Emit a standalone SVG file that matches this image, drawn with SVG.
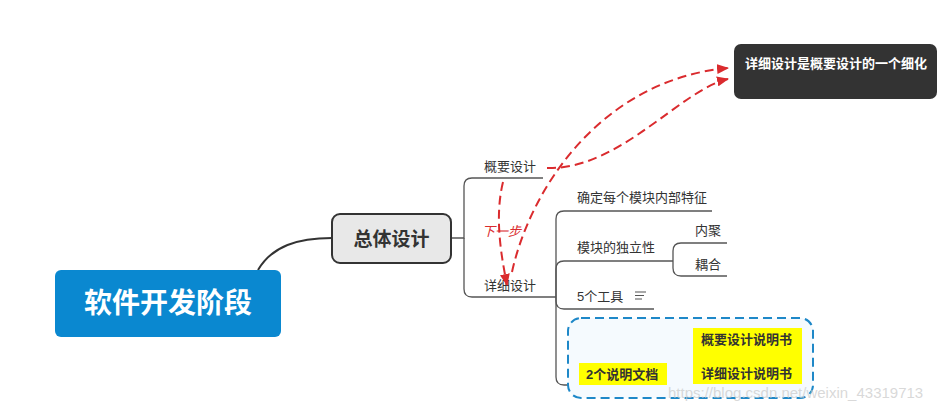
<svg xmlns="http://www.w3.org/2000/svg" width="947" height="412" viewBox="0 0 947 412">
<defs>
<style>
text{font-family:"Liberation Sans","Noto Sans CJK SC",sans-serif;}
.t{font-size:13px;fill:#333;}
.b{font-weight:bold;}
.ln{fill:none;stroke:#555;stroke-width:1.3;}
.red{fill:none;stroke:#DA2B2E;stroke-width:2;stroke-dasharray:9 5;}
.yl{fill:#FFFF00;}
</style>
<marker id="ah" markerWidth="12" markerHeight="10" refX="11" refY="5" orient="auto" markerUnits="userSpaceOnUse">
<path d="M0,0 L12,5 L0,10 Z" fill="#DA2B2E"/>
</marker>
</defs>
<rect width="947" height="412" fill="#fff"/>

<g id="connectors">
<path d="M258,270 C272,246 298,238 332,238" fill="none" stroke="#333" stroke-width="2"/>
<path class="ln" d="M452,238 H464 V186 Q464,178 472,178 H543"/>
<path class="ln" d="M464,238 V289 Q464,297 472,297 H556"/>
<path class="ln" d="M556,298 V219 Q556,211 564,211 H712"/>
<path class="ln" d="M556,298 V269 Q556,261 564,261 H673"/>
<path class="ln" d="M556,298 V301 Q556,309 564,309 H654"/>
<path class="ln" d="M556,298 V377 Q556,385 564,385 H668"/>
<path class="ln" d="M673,261 V251 Q673,243 681,243 H727"/>
<path class="ln" d="M673,261 V268 Q673,276 681,276 H727"/>
</g>

<g id="root">
<rect x="55" y="270" width="226" height="67" rx="6" fill="#0A88D0"/>
<text x="168" y="313" text-anchor="middle" class="b" font-size="28" fill="#fff">软件开发阶段</text>
</g>

<g id="overall">
<rect x="332" y="214" width="119" height="49" rx="8" fill="#E8E8E8" stroke="#333" stroke-width="2"/>
<text x="391.5" y="246" text-anchor="middle" class="b" font-size="19" fill="#333">总体设计</text>
</g>

<g id="outline"><text x="484" y="171" class="t">概要设计</text></g>
<g id="detail"><text x="484" y="290" class="t">详细设计</text></g>
<g id="feature"><text x="577" y="202" class="t">确定每个模块内部特征</text></g>
<g id="independence"><text x="577" y="252" class="t">模块的独立性</text></g>
<g id="cohesion"><text x="695" y="235" class="t">内聚</text></g>
<g id="coupling"><text x="695" y="269" class="t">耦合</text></g>
<g id="tools">
<text x="577" y="301" class="t">5个工具</text>
<path d="M635,292 H646 M635,295.5 H644 M635,299 H642" stroke="#555" stroke-width="1.2" fill="none"/>
</g>

<g id="docs-boundary">
<rect x="568" y="318" width="245" height="80" rx="13" fill="#F5FAFE" stroke="#1E88C8" stroke-width="2" stroke-dasharray="9 5"/>
</g>
<g id="docs">
<rect class="yl" x="579" y="363" width="88" height="22"/>
<text x="586" y="379" class="t b" fill="#222">2个说明文档</text>
</g>
<g id="doc-outline">
<rect class="yl" x="693" y="328" width="109" height="28"/>
<text x="701" y="344" class="t b" fill="#222">概要设计说明书</text>
</g>
<g id="doc-detail">
<rect class="yl" x="693" y="356" width="109" height="28"/>
<text x="701" y="378" class="t b" fill="#222">详细设计说明书</text>
</g>

<g id="note">
<rect x="734" y="44" width="203" height="55" rx="7" fill="#333"/>
<text x="745" y="68" class="b" font-size="13" fill="#fff">详细设计是概要设计的一个细化</text>
</g>

<g id="relations">
<path class="red" d="M547,168 C620,170 680,90 728,79" marker-end="url(#ah)"/>
<path class="red" d="M512,272 C530,190 600,80 728,68" marker-end="url(#ah)"/>
<path class="red" d="M503,182 C495,215 500,250 507,285" marker-end="url(#ah)"/>
<text x="482" y="236" font-size="13" font-style="italic" fill="#DA2B2E">下一步</text>
</g>

<text x="668" y="398" font-size="15" fill="#c8c8c8" fill-opacity="0.7">https://blog.csdn.net/weixin_43319713</text>
</svg>
